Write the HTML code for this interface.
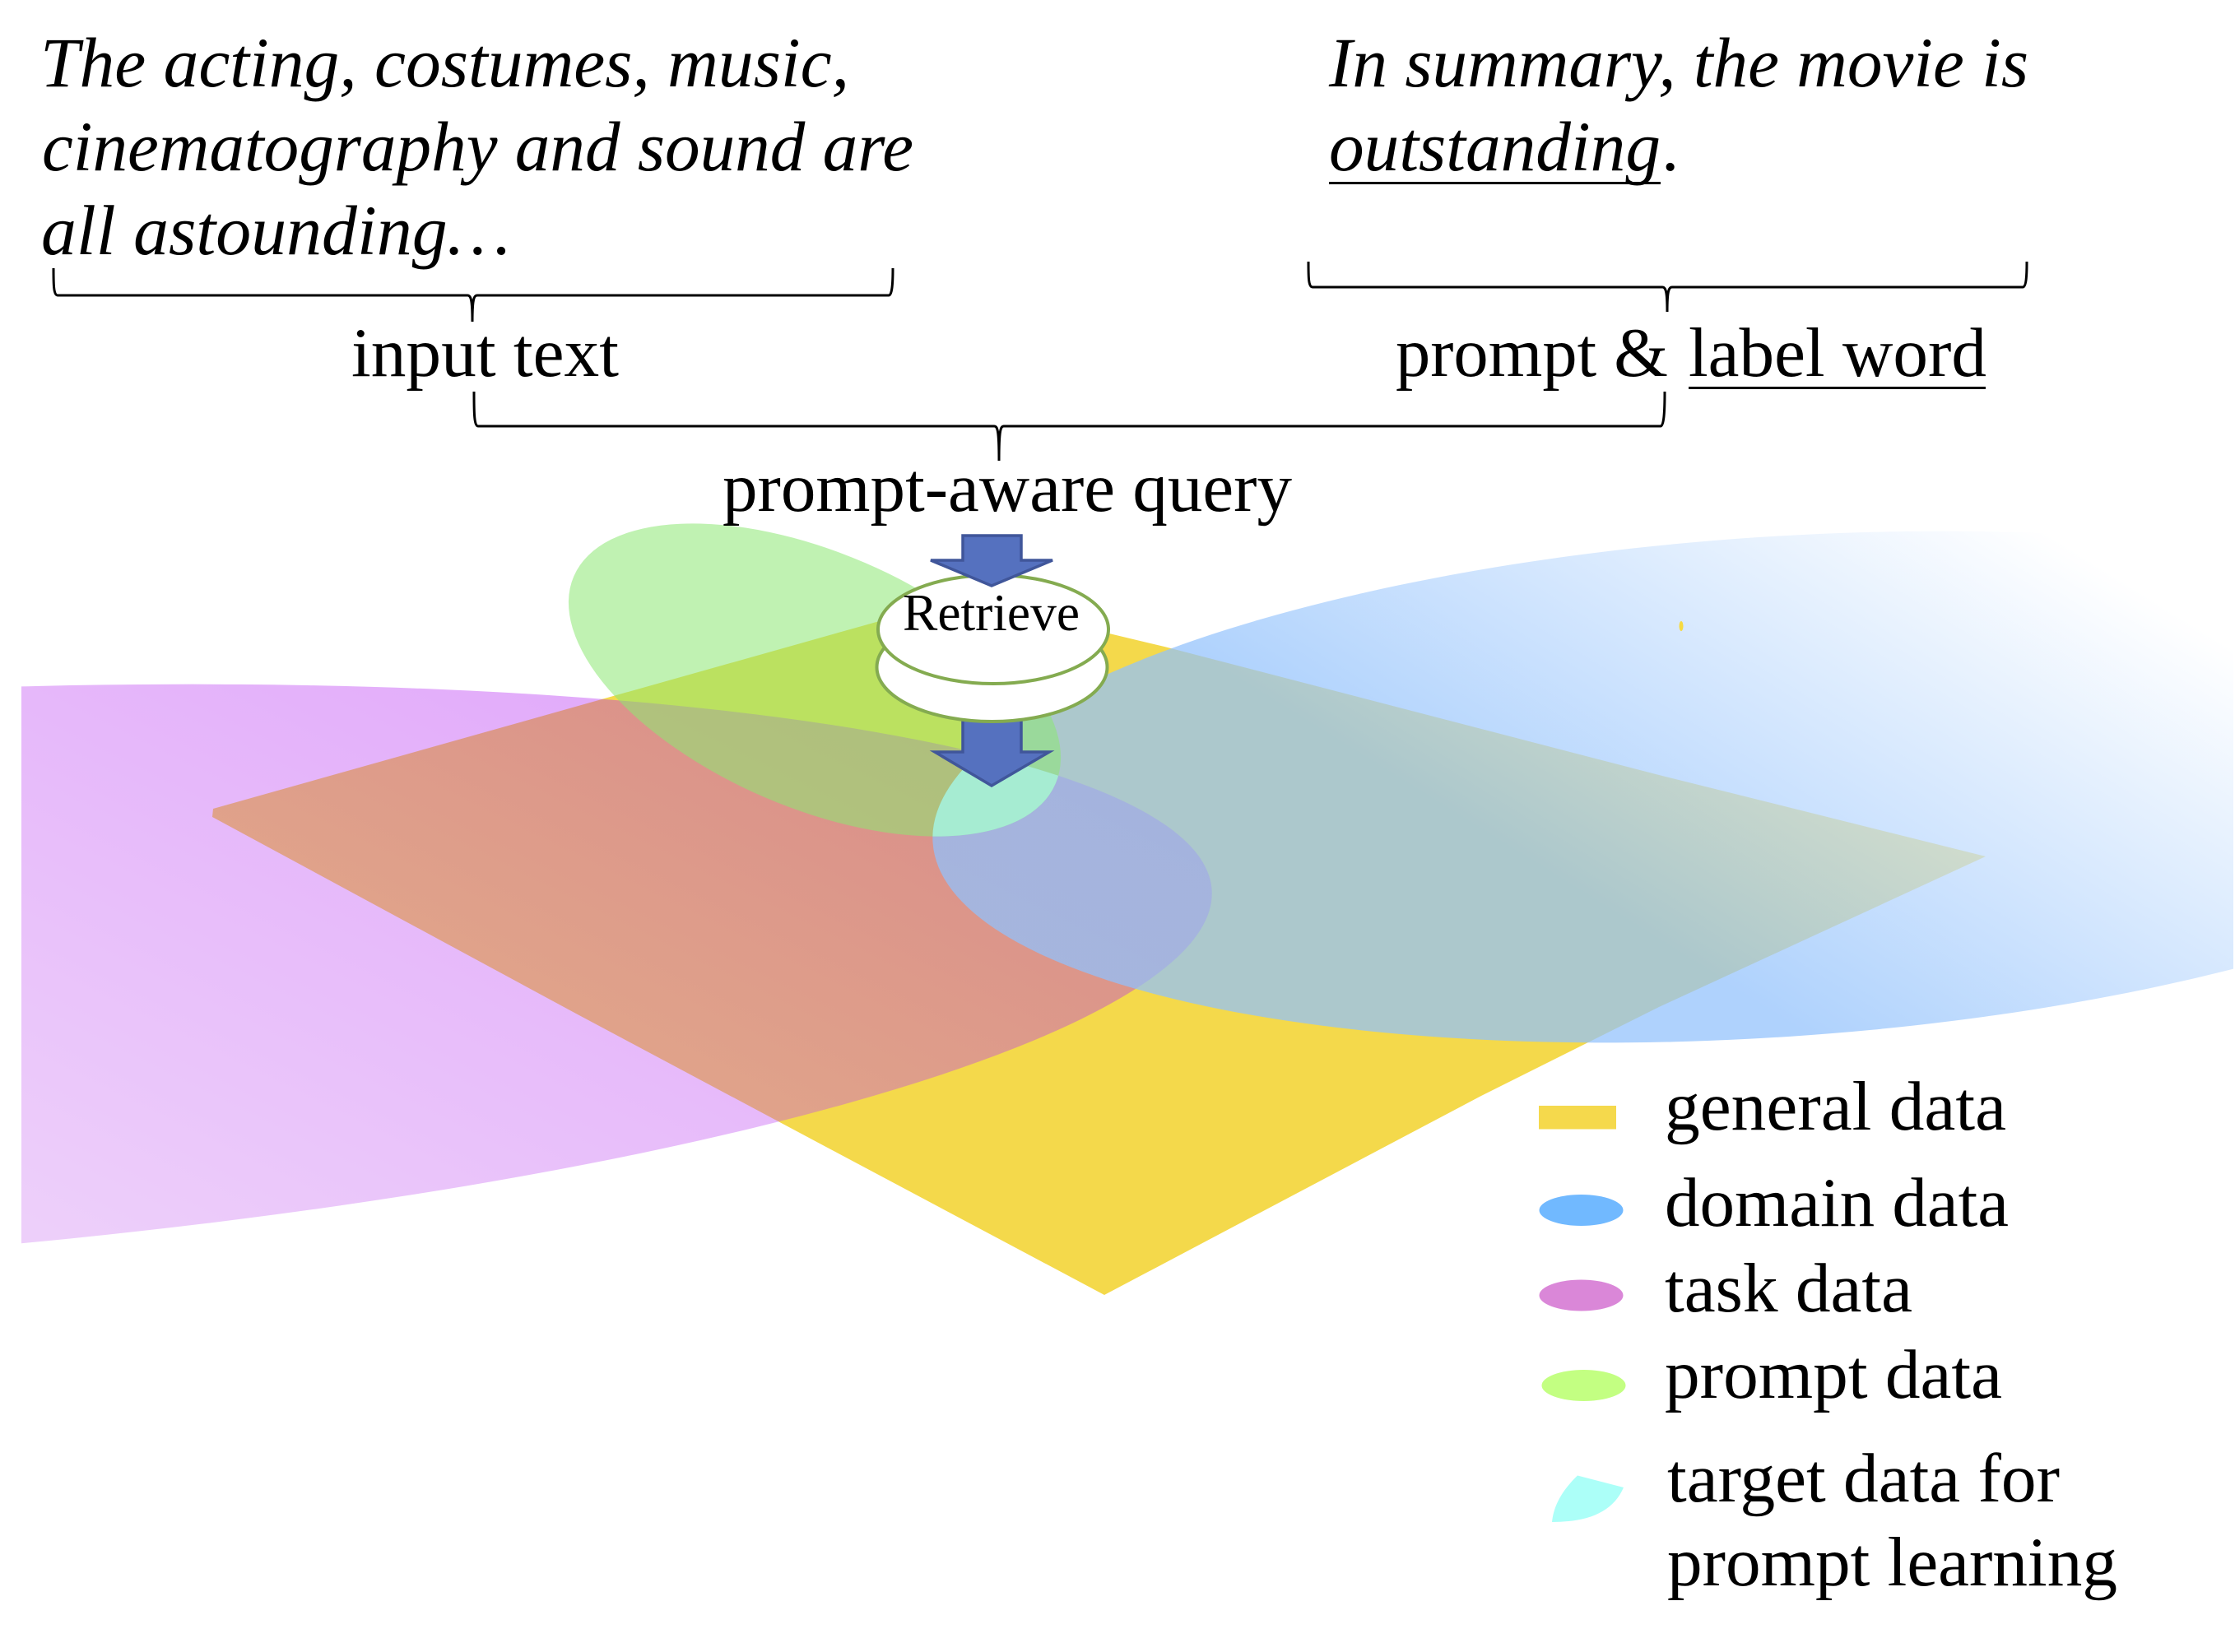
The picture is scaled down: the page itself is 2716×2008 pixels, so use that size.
<!DOCTYPE html>
<html><head><meta charset="utf-8"><style>
html,body{margin:0;padding:0;background:#fff}
svg{display:block}
text{font-family:"Liberation Serif",serif;fill:#000}
.i{font-style:italic;font-size:86px}
.t{font-size:85px}
</style></head><body>
<svg width="2716" height="2008" viewBox="0 0 2716 2008" xmlns="http://www.w3.org/2000/svg">
<defs>
<linearGradient id="pg" gradientUnits="userSpaceOnUse" x1="26" y1="1512" x2="632" y2="457">
<stop offset="0" stop-color="rgb(208,129,242)"/><stop offset="1" stop-color="rgb(168,0,242)"/>
</linearGradient>
<linearGradient id="bg" gradientUnits="userSpaceOnUse" x1="2200" y1="1280" x2="2593" y2="732">
<stop offset="0" stop-color="rgb(145,193,252)"/><stop offset="1" stop-color="rgb(255,255,255)"/>
</linearGradient>
<clipPath id="cl"><rect x="26" y="0" width="2690" height="2008"/></clipPath>
<clipPath id="cr"><rect x="0" y="0" width="2714" height="2008"/></clipPath>
<clipPath id="cb"><ellipse cx="2155" cy="956.5" rx="1023.7" ry="304" transform="rotate(-3.8 2155 956.5)"/></clipPath>
<clipPath id="cp"><ellipse cx="-277" cy="1191" rx="1753" ry="343" transform="rotate(-3.57 -277 1191)"/></clipPath>
</defs>
<rect width="2716" height="2008" fill="#fff"/>

<polygon points="259,983 1168,727 1415,786 2016,942 2413,1041 2016,1224 1800,1332 1342,1574 1000,1392 700,1232 258,993" fill="#f4d94b"/>

<g clip-path="url(#cl)"><ellipse cx="-277" cy="1191" rx="1753" ry="343" transform="rotate(-3.57 -277 1191)" fill="url(#pg)" fill-opacity=".38"/></g>
<g clip-path="url(#cr)"><ellipse cx="2155" cy="956.5" rx="1023.7" ry="304" transform="rotate(-3.8 2155 956.5)" fill="url(#bg)" fill-opacity=".73"/></g>
<ellipse cx="2043" cy="761" rx="2.5" ry="6" fill="#f6da42"/>
<ellipse cx="990" cy="826.5" rx="318.7" ry="155" transform="rotate(23.3 990 826.5)" fill="rgb(140,231,115)" fill-opacity=".55"/>
<g clip-path="url(#cp)"><g clip-path="url(#cb)"><ellipse cx="990" cy="826.5" rx="318.7" ry="155" transform="rotate(23.3 990 826.5)" fill="#a6ecd2"/></g></g>

<polygon points="1170,860 1241,860 1241,914 1275,914 1205,955 1136,914 1170,914" fill="#5571bf" stroke="#40569a" stroke-width="3.5"/>
<ellipse cx="1205.5" cy="811" rx="140" ry="66" fill="#fff" stroke="#84ab50" stroke-width="4"/>
<ellipse cx="1207" cy="765" rx="140" ry="66" fill="#fff" stroke="#84ab50" stroke-width="4"/>
<polygon points="1170,651 1241,651 1241,681 1279,681 1205,712 1131,681 1170,681" fill="#5571bf" stroke="#40569a" stroke-width="3.5"/>
<text x="1097" y="766" font-size="64" textLength="215" lengthAdjust="spacingAndGlyphs">Retrieve</text>

<text class="i" x="49" y="105" textLength="983" lengthAdjust="spacingAndGlyphs">The acting, costumes, music,</text>
<text class="i" x="51" y="207" textLength="1059" lengthAdjust="spacingAndGlyphs">cinematography and sound are</text>
<text class="i" x="50" y="309" textLength="570" lengthAdjust="spacingAndGlyphs">all astounding…</text>
<text class="i" x="1615" y="105" textLength="850" lengthAdjust="spacingAndGlyphs">In summary, the movie is</text>
<text class="i" x="1615" y="207" textLength="403" lengthAdjust="spacingAndGlyphs">outstanding</text>
<text class="i" x="2021" y="207">.</text>
<rect x="1615" y="221" width="403" height="3" fill="#000"/>

<g fill="none" stroke="#000" stroke-width="3">
<path d="M65 326 C65 345 65 359 70 359 H568 C572 359 574 363 574 391 C574 363 576 359 580 359 H1080 C1084 359 1085 345 1085 326"/>
<path d="M1590 318 C1590 337 1590 349 1595 349 H2020 C2024 349 2026 353 2026 379 C2026 353 2028 349 2032 349 H2458 C2462 349 2463 337 2463 318"/>
<path d="M576 476 C576 500 576 518 581 518 H1208 C1212 518 1214 522 1214 560 C1214 522 1216 518 1220 518 H2018 C2022 518 2023 500 2023 476"/>
</g>

<text class="t" x="427" y="457" textLength="325" lengthAdjust="spacingAndGlyphs">input text</text>
<text class="t" x="1696" y="457" textLength="331" lengthAdjust="spacingAndGlyphs">prompt &amp;</text>
<text class="t" x="2052" y="457" textLength="362" lengthAdjust="spacingAndGlyphs">label word</text>
<rect x="2052" y="470" width="361" height="3" fill="#000"/>
<text class="t" x="878" y="621" textLength="692" lengthAdjust="spacingAndGlyphs">prompt-aware query</text>

<rect x="1870" y="1344" width="94" height="28.5" fill="#f5d94c"/>
<ellipse cx="1921.5" cy="1471" rx="51" ry="19" fill="#71b9ff"/>
<ellipse cx="1921.5" cy="1574.5" rx="51" ry="19" fill="#da87d8"/>
<ellipse cx="1924.5" cy="1684" rx="51" ry="19" fill="#c3ff82"/>
<path d="M1917 1793.5 L1973 1808 C1960 1838 1930 1850 1886 1850 C1888 1830 1898 1812 1917 1793.5 Z" fill="#acfff8"/>

<text class="t" x="2023" y="1373" textLength="415" lengthAdjust="spacingAndGlyphs">general data</text>
<text class="t" x="2023" y="1490" textLength="418" lengthAdjust="spacingAndGlyphs">domain data</text>
<text class="t" x="2023" y="1594" textLength="301" lengthAdjust="spacingAndGlyphs">task data</text>
<text class="t" x="2023" y="1699" textLength="410" lengthAdjust="spacingAndGlyphs">prompt data</text>
<text class="t" x="2026" y="1825" textLength="477" lengthAdjust="spacingAndGlyphs">target data for</text>
<text class="t" x="2026" y="1927" textLength="547" lengthAdjust="spacingAndGlyphs">prompt learning</text>
</svg>
</body></html>
